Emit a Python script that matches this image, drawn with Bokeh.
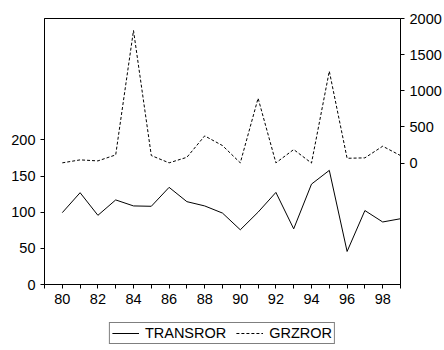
from bokeh.plotting import figure
from bokeh.layouts import column
from bokeh.models import (Range1d, LinearAxis, FixedTicker, Legend, LegendItem,
                          ColumnDataSource)
from bokeh.embed import file_html
from bokeh.resources import INLINE

# ---- data ----
years = [80, 81, 82, 83, 84, 85, 86, 87, 88, 89,
         90, 91, 92, 93, 94, 95, 96, 97, 98, 99]
transror = [99.4, 127, 95.7, 117, 108.7, 108.2, 134.4, 114.6, 108.7, 98.8,
            75.7, 100.1, 127.4, 77, 138.9, 157.9, 45.7, 102.3, 86.5, 91]
grzror = [3, 44, 30, 113, 1834, 104, 3, 80, 376, 242,
          3, 897, 3, 187, 0, 1271, 66, 72, 233, 104]
x_labeled_ticks = [80, 82, 84, 86, 88, 90, 92, 94, 96, 98]
x_minor_ticks = [79, 81, 83, 85, 87, 89, 91, 93, 95, 97, 99]
left_ticks = [0, 50, 100, 150, 200]
right_ticks = [0, 500, 1000, 1500, 2000]
series_names = ["TRANSROR", "GRZROR"]

FONT = "Liberation Sans"
FS = "14.5px"

src = ColumnDataSource(data=dict(year=years, transror=transror, grzror=grzror))

p = figure(frame_width=356, frame_height=266, output_backend="svg",
           toolbar_location=None,
           x_range=Range1d(79, 99), y_range=Range1d(0, 368),
           min_border_left=44, min_border_right=44, min_border_top=18,
           min_border_bottom=26)
p.extra_y_ranges = {"right": Range1d(-1680, 2000)}

p.xgrid.visible = False
p.ygrid.visible = False
p.outline_line_color = "black"
p.outline_line_width = 1
p.background_fill_color = "white"
p.border_fill_color = "white"

p.line("year", "transror", source=src, line_color="black", line_width=1)
p.line("year", "grzror", source=src, line_color="black", line_width=1,
       line_dash="3 2", y_range_name="right")

# axes
xa = p.xaxis[0]
xa.ticker = FixedTicker(ticks=x_labeled_ticks, minor_ticks=x_minor_ticks)
ya = p.yaxis[0]
ya.ticker = FixedTicker(ticks=left_ticks)
ra = LinearAxis(y_range_name="right", ticker=FixedTicker(ticks=right_ticks))
p.add_layout(ra, "right")

for ax in (xa, ya, ra):
    ax.axis_line_color = "black"
    ax.major_tick_line_color = "black"
    ax.minor_tick_line_color = "black"
    ax.major_tick_out = 4
    ax.major_tick_in = 0
    ax.minor_tick_out = 4
    ax.minor_tick_in = 0
    ax.major_label_text_font = FONT
    ax.major_label_text_font_size = FS
    ax.major_label_text_color = "black"
    ax.major_label_standoff = 5
ya.minor_tick_line_color = None
ra.minor_tick_line_color = None

# ---- legend strip below the chart (legend only, series drawn off-range) ----
lg = figure(frame_width=444, frame_height=34, output_backend="svg",
            toolbar_location=None,
            x_range=Range1d(79, 99), y_range=Range1d(0, 368),
            min_border_left=0, min_border_right=0, min_border_top=6,
            min_border_bottom=0)
lg.extra_y_ranges = {"right": Range1d(-1680, 2000)}
lg.axis.visible = False
lg.outline_line_color = None
lg.xgrid.visible = False
lg.ygrid.visible = False
lg.border_fill_color = "white"
g1 = lg.line("year", "transror", source=src, line_color="black", line_width=1)
g2 = lg.line("year", "grzror", source=src, line_color="black", line_width=1,
             line_dash="3 2", y_range_name="right")
lg.y_range = Range1d(1000, 1001)
lg.extra_y_ranges = {"right": Range1d(9000, 9001)}

legend = Legend(items=[LegendItem(label=series_names[0], renderers=[g1]),
                       LegendItem(label=series_names[1], renderers=[g2])],
                orientation="horizontal", location="center",
                label_text_font=FONT, label_text_font_size=FS,
                label_text_color="black",
                glyph_width=27, glyph_height=16, label_height=16,
                label_standoff=6, spacing=10, padding=2, margin=0,
                border_line_color="black", border_line_width=1,
                background_fill_color="white", background_fill_alpha=1)
lg.add_layout(legend, "center")

layout = column(p, lg, spacing=0)
open("out.html", "w").write(file_html(layout, INLINE))
